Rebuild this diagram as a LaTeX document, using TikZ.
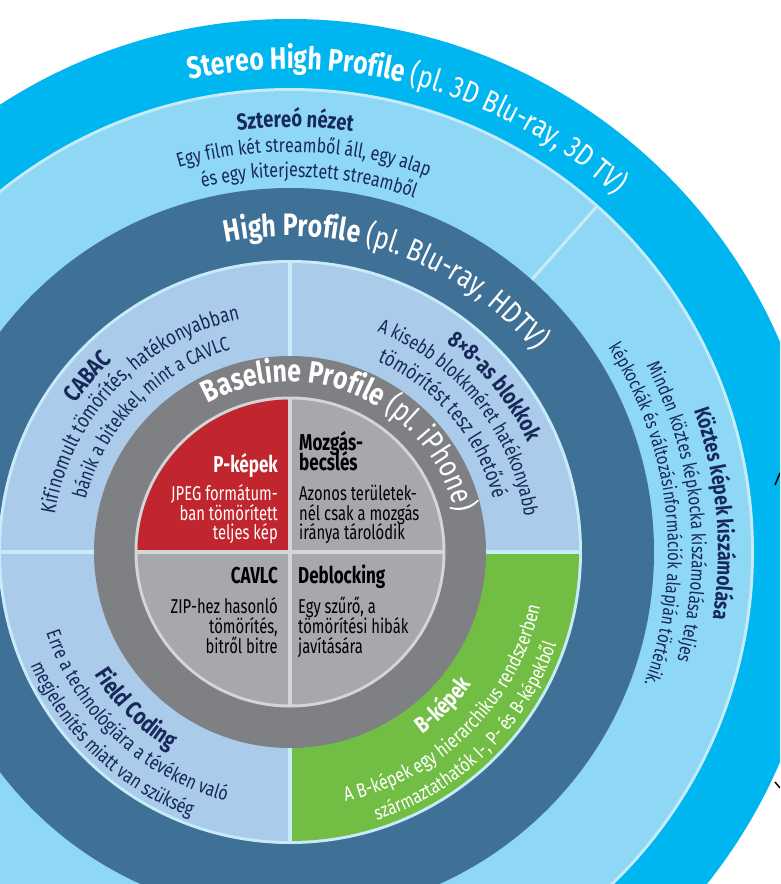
\documentclass[tikz,border=0pt]{standalone}
\usepackage{fontspec}
\setmainfont{Fira Sans}[FakeStretch=0.74]
\newfontfamily\widefam{Fira Sans}[FakeStretch=0.8]
\usetikzlibrary{decorations.text}
\definecolor{outerblue}{HTML}{00B6F0}
\definecolor{stereolight}{HTML}{8ED8F6}
\definecolor{paleline}{HTML}{C8EBFA}
\definecolor{darkblue}{HTML}{3F7096}
\definecolor{quadlight}{HTML}{AACBEA}
\definecolor{bgreen}{HTML}{72BE44}
\definecolor{grayring}{HTML}{7F8084}
\definecolor{innergray}{HTML}{A7A8AC}
\definecolor{pred}{HTML}{C1262F}
\definecolor{innerline}{HTML}{D4D5D7}
\definecolor{navy}{HTML}{18285A}
% clockwise arc text (tops outward): color, center angle, half span, radius, text
\newcommand\cwtext[5]{%
  \pgfmathsetmacro\arcSA{#2+#3}\pgfmathsetmacro\arcEA{#2-#3}%
  \path[decorate,decoration={text along path,text align=center,text color=#1,text={#5}}]
    (\arcSA:#4) arc[start angle=\arcSA,end angle=\arcEA,radius=#4];}
% counterclockwise arc text (tops inward)
\newcommand\ccwtext[5]{%
  \pgfmathsetmacro\arcSA{#2-#3}\pgfmathsetmacro\arcEA{#2+#3}%
  \path[decorate,decoration={text along path,text align=center,text color=#1,text={#5}}]
    (\arcSA:#4) arc[start angle=\arcSA,end angle=\arcEA,radius=#4];}
\newcommand\fB[1]{\fontsize{#1}{#1}\selectfont\bfseries}
\newcommand\fR[1]{\fontsize{#1}{#1}\selectfont\mdseries}
\newcommand\wB[1]{\widefam\fontsize{#1}{#1}\selectfont\bfseries}
\newcommand\wR[1]{\widefam\fontsize{#1}{#1}\selectfont\mdseries}
\tikzset{
  inbody/.style={inner sep=0pt, font=\fR{20}},
  intitle/.style={inner sep=0pt, font=\fB{23}},
}
\begin{document}
\begin{tikzpicture}[x=1pt,y=1pt]
\useasboundingbox (-290,-332) rectangle (490,552);
\clip (-290,-332) rectangle (490,552);
\fill[white] (-290,-332) rectangle (490,552);
% rings
\fill[outerblue] (0,0) circle[radius=533];
\fill[paleline] (0,0) circle[radius=464];
\fill[stereolight] (0,0) circle[radius=461];
\draw[paleline,line width=3] (48.4:362) -- (48.4:462);
\fill[darkblue] (0,0) circle[radius=364];
\fill[paleline] (0,0) circle[radius=292];
\fill[quadlight] (0,0) -- (0:289) arc[start angle=0,end angle=270,radius=289] -- cycle;
\fill[bgreen] (0,0) -- (270:289) arc[start angle=270,end angle=360,radius=289] -- cycle;
\draw[paleline,line width=3.5] (-291,0) -- (291,0) (0,-291) -- (0,291);
\fill[grayring] (0,0) circle[radius=196];
\fill[innerline] (0,0) circle[radius=155.5];
\fill[innergray] (0,0) circle[radius=152.5];
\fill[pred] (0,0) -- (90:152.5) arc[start angle=90,end angle=180,radius=152.5] -- cycle;
\draw[innerline,line width=4] (-154,0) -- (154,0) (0,-154) -- (0,154);
% ring titles
\cwtext{white}{74.8}{80}{483}{|\wB{31}|Stereo High Profile |\wR{30.5}|(pl. 3D Blu-ray, 3D TV)}
\cwtext{white}{70.5}{80}{316}{|\wB{31}|High Profile |\wR{31}|(pl. Blu-ray, HDTV)}
\cwtext{white}{66}{88}{170}{|\wB{31}|Baseline Profile |\wR{31}|(pl. iPhone)}
% Sztereo nezet
\cwtext{navy}{89.3}{40}{425}{|\wB{23}|Sztereó nézet}
\cwtext{navy}{88}{40}{400}{|\wR{20}|Egy film két streamből áll, egy alap}
\cwtext{navy}{87.1}{40}{375}{|\wR{20}|és egy kiterjesztett streamből}
% Koztes kepek
\cwtext{navy}{5.2}{40}{428}{|\wB{22}|Köztes képek kiszámolása}
\cwtext{navy}{6}{40}{402}{|\wR{19.3}|Minden köztes képkocka kiszámolása teljes}
\cwtext{navy}{6.2}{40}{378}{|\wR{18.8}|képkockák és változásinformációk alapján történik.}
% CABAC
\cwtext{navy}{139}{70}{261}{|\wB{24}|CABAC}
\cwtext{navy}{136.5}{70}{238}{|\wR{21}|Kifinomult tömörítés, hatékonyabban}
\cwtext{navy}{136}{70}{211}{|\wR{20}|bánik a bitekkel, mint a CAVLC}
% 8x8
\cwtext{navy}{39}{70}{262}{|\wB{23}|8×8-as blokkok}
\cwtext{navy}{38.5}{70}{237}{|\wR{20}|A kisebb blokkméret hatékonyabb}
\cwtext{navy}{40}{70}{210}{|\wR{21}|tömörítést tesz lehetővé}
% Field coding
\ccwtext{navy}{225.5}{70}{231}{|\wB{24}|Field Coding}
\ccwtext{navy}{227}{70}{257}{|\wR{20}|Erre a technológiára a tévéken való}
\ccwtext{navy}{226.5}{70}{283}{|\wR{20}|megjelenítés miatt van szükség}
% B-kepek
\ccwtext{white}{-45}{70}{225}{|\wB{23}|B-képek}
\ccwtext{white}{-44.8}{70}{256}{|\wR{20}|A B-képek egy hierarchikus rendszerben}
\ccwtext{white}{-45.6}{70}{282}{|\wR{19.5}|származtathatók I-, P- és B-képekből}
% inner quadrants
\node[intitle,text=white,anchor=base east] (pk0) at (-12,80) {P-képek};
\node[inbody,text=white,anchor=base east] (pk1) at (-12,52) {JPEG formátum-};
\node[inbody,text=white,anchor=base east] (pk2) at (-12,32) {ban tömörített};
\node[inbody,text=white,anchor=base east] (pk3) at (-12,13) {teljes kép};
\node[intitle,text=black,anchor=base west] (mz0) at (9,102) {Mozgás-};
\node[intitle,text=black,anchor=base west] (mz1) at (9,82) {becslés};
\node[inbody,text=black,anchor=base west] (mz2) at (9,52) {Azonos területek-};
\node[inbody,text=black,anchor=base west] (mz3) at (9,32) {nél csak a mozgás};
\node[inbody,text=black,anchor=base west] (mz4) at (9,13) {iránya tárolódik};
\node[intitle,text=black,anchor=base east] (cv0) at (-12,-31) {CAVLC};
\node[inbody,text=black,anchor=base east] (cv1) at (-12,-61) {ZIP-hez hasonló};
\node[inbody,text=black,anchor=base east] (cv2) at (-12,-81) {tömörítés,};
\node[inbody,text=black,anchor=base east] (cv3) at (-12,-101) {bitről bitre};
\node[intitle,text=black,anchor=base west] (db0) at (8,-31) {Deblocking};
\node[inbody,text=black,anchor=base west] (db1) at (8,-61) {Egy szűrő, a};
\node[inbody,text=black,anchor=base west] (db2) at (8,-81) {tömörítési hibák};
\node[inbody,text=black,anchor=base west] (db3) at (8,-101) {javítására};
% clipped marks at right edge
\draw[black,line width=1.5] (485,67) -- (490,79);
\draw[black,line width=1.5] (485,-230) -- (490,-236);
\end{tikzpicture}
\end{document}
